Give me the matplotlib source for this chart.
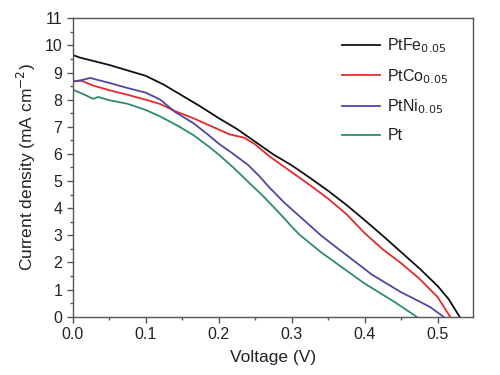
import matplotlib
matplotlib.use("Agg")
import matplotlib.pyplot as plt
from matplotlib.ticker import MultipleLocator

plt.rcParams['font.family'] = ['Liberation Sans', 'DejaVu Sans']

# PtFe0.05
v_fe = [0, .01, .025, .05, .075, .1, .125, .15, .175, .2, .225, .25, .275, .3, .325, .35, .375, .4, .425, .45, .475, .5, .515, .53]
j_fe = [9.65, 9.55, 9.45, 9.28, 9.08, 8.88, 8.55, 8.15, 7.75, 7.32, 6.92, 6.45, 5.98, 5.58, 5.12, 4.64, 4.12, 3.56, 2.98, 2.38, 1.78, 1.13, 0.65, 0.0]
# PtCo0.05
v_co = [0, .012, .028, .05, .075, .1, .12, .14, .165, .2, .215, .235, .25, .27, .3, .325, .35, .375, .4, .425, .45, .475, .5, .517]
j_co = [8.67, 8.70, 8.52, 8.35, 8.18, 8.0, 7.84, 7.58, 7.32, 6.9, 6.72, 6.60, 6.35, 5.9, 5.33, 4.85, 4.35, 3.78, 3.08, 2.48, 1.97, 1.40, 0.72, 0.0]
# PtNi0.05
v_ni = [0, .012, .024, .05, .075, .1, .12, .14, .165, .185, .2, .22, .24, .255, .27, .29, .31, .34, .36, .38, .41, .45, .475, .49, .508]
j_ni = [8.67, 8.72, 8.80, 8.62, 8.43, 8.26, 8.0, 7.55, 7.14, 6.72, 6.38, 6.0, 5.6, 5.2, 4.75, 4.2, 3.72, 3.0, 2.58, 2.17, 1.55, 0.9, 0.56, 0.35, 0.0]
# Pt
v_pt = [0, .015, .028, .035, .05, .075, .1, .12, .145, .165, .185, .2, .22, .24, .26, .275, .29, .3, .31, .34, .37, .4, .44, .471]
j_pt = [8.37, 8.2, 8.03, 8.1, 7.98, 7.85, 7.62, 7.38, 7.02, 6.7, 6.3, 5.98, 5.5, 4.98, 4.47, 4.05, 3.62, 3.32, 3.04, 2.38, 1.8, 1.22, 0.56, 0.0]

labels = ['PtFe$_{0.05}$', 'PtCo$_{0.05}$', 'PtNi$_{0.05}$', 'Pt']
colors = ['#111111', '#e32b2b', '#4f47a0', '#2f8a72']

fig = plt.figure(figsize=(5, 3.75), dpi=100)
ax = fig.add_axes([0.1454, 0.1555, 0.80, 0.7957])

for v, j, lab, c in zip([v_fe, v_co, v_ni, v_pt], [j_fe, j_co, j_ni, j_pt], labels, colors):
    ax.plot(v, j, color=c, lw=1.3, label=lab)

ax.set_xlim(0, 0.548)
ax.set_ylim(0, 11)
ax.xaxis.set_major_locator(MultipleLocator(0.1))
ax.xaxis.set_minor_locator(MultipleLocator(0.05))
ax.yaxis.set_major_locator(MultipleLocator(1))
ax.yaxis.set_minor_locator(MultipleLocator(0.5))
ax.xaxis.set_major_formatter(matplotlib.ticker.FormatStrFormatter('%.1f'))

for s in ax.spines.values():
    s.set_color('#555555')
    s.set_linewidth(1.0)
ax.tick_params(which='both', direction='out', top=False, right=False, colors='#555555', labelcolor='#222222', labelsize=11.5)
ax.tick_params(which='major', length=4.5, width=1.0, pad=3)
ax.tick_params(which='minor', length=2.5, width=1.0)

ax.set_xlabel('Voltage (V)', fontsize=12.5, color='#222222', labelpad=6)
ax.set_ylabel('Current density (mA cm$^{-2}$)', fontsize=12.5, color='#222222', labelpad=5)

leg = ax.legend(loc='upper left', bbox_to_anchor=(0.673, 0.94), frameon=False,
                fontsize=11.5, handlelength=2.4, handletextpad=0.45,
                labelspacing=0.75, borderpad=0, borderaxespad=0)
for t in leg.get_texts():
    t.set_color('#222222')

fig.savefig('out.png', dpi=100)
